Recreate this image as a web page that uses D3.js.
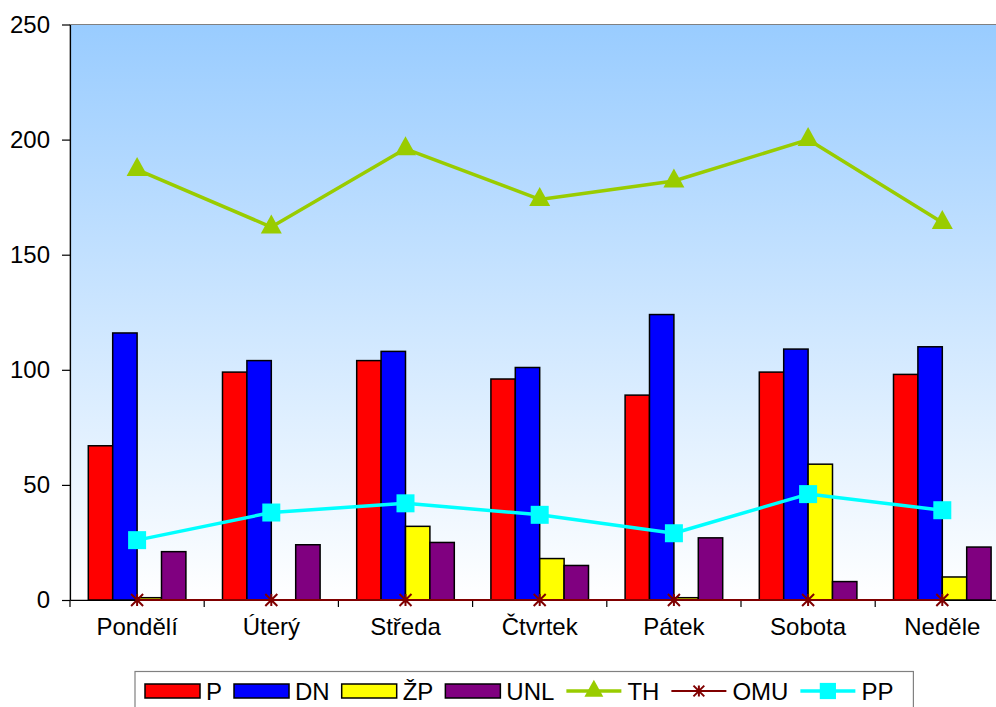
<!DOCTYPE html>
<html>
<head>
<meta charset="utf-8">
<script src="https://cdn.jsdelivr.net/npm/d3@7"></script>
<style>
  html, body { margin: 0; padding: 0; background: #ffffff; }
  svg { display: block; font-family: "Liberation Sans", Arial, sans-serif; }
</style>
</head>
<body>
<svg id="chart" width="996" height="707"></svg>
<script>
// ---- data ----
const categories = ["Pondělí", "Úterý", "Středa", "Čtvrtek", "Pátek", "Sobota", "Neděle"];
const barSeries = ["P", "DN", "ŽP", "UNL"];
const P   = [67, 99, 104, 96, 89, 99, 98];
const DN  = [116, 104, 108, 101, 124, 109, 110];
const ZP  = [1, 0, 32, 18, 1, 59, 10];
const UNL = [21, 24, 25, 15, 27, 8, 23];
const TH  = [187, 162, 196, 174, 182, 200, 164];
const OMU = [0, 0, 0, 0, 0, 0, 0];
const PP  = [26, 38, 42, 37, 29, 46, 39];
const yTicks = [0, 50, 100, 150, 200, 250];

const barData = { "P": P, "DN": DN, "ŽP": ZP, "UNL": UNL };
const barColors = { "P": "#ff0000", "DN": "#0000ff", "ŽP": "#ffff00", "UNL": "#800080" };
const lineSeries = [
  { name: "TH", values: TH, color: "#99cc00", width: 3.5, marker: "triangle" },
  { name: "OMU", values: OMU, color: "#800000", width: 2, marker: "star" },
  { name: "PP", values: PP, color: "#00ffff", width: 3.5, marker: "square" }
];

// ---- layout ----
const svg = d3.select("#chart");
const mLeft = 70, mRight = 1009.4, mTop = 24.5, mBottom = 600;
const FS = 24;

const x = d3.scaleBand().domain(categories).range([mLeft, mRight]).paddingInner(0).paddingOuter(0);
const y = d3.scaleLinear().domain([0, 250]).range([mBottom, mTop]);
const groupW = x.bandwidth() * 4 / 5.5;
const x1 = d3.scaleBand().domain(barSeries).range([-groupW / 2, groupW / 2]);
const cx = c => x(c) + x.bandwidth() / 2;

// background gradient
const defs = svg.append("defs");
const grad = defs.append("linearGradient").attr("id", "bg").attr("x1", 0).attr("y1", 0).attr("x2", 0).attr("y2", 1);
grad.append("stop").attr("offset", "0%").attr("stop-color", "#99ccff");
grad.append("stop").attr("offset", "100%").attr("stop-color", "#ffffff");

svg.append("rect").attr("x", mLeft).attr("y", mTop).attr("width", mRight - mLeft).attr("height", mBottom - mTop)
  .attr("fill", "url(#bg)").attr("stroke", "#808080").attr("stroke-width", 1);

// bars
barSeries.forEach(s => {
  svg.append("g").selectAll("rect").data(categories).join("rect")
    .attr("x", (c) => cx(c) + x1(s))
    .attr("width", x1.bandwidth())
    .attr("y", (c, i) => y(barData[s][i]))
    .attr("height", (c, i) => y(0) - y(barData[s][i]))
    .attr("fill", barColors[s])
    .attr("stroke", "#000")
    .attr("stroke-width", 1.5);
});

// y axis
const yAxis = d3.axisLeft(y).tickValues(yTicks).tickSize(8).tickSizeOuter(0).tickPadding(12);
const gy = svg.append("g").attr("transform", `translate(${mLeft},0)`).call(yAxis);
gy.select(".domain").attr("stroke", "#000").attr("stroke-width", 1.2);
gy.selectAll(".tick line").attr("stroke", "#000").attr("stroke-width", 1.2);
gy.selectAll(".tick text").attr("font-size", FS).attr("font-family", "Liberation Sans, Arial, sans-serif").attr("fill", "#000");

// x axis
const xAxis = d3.axisBottom(x).tickSize(0).tickPadding(18);
const gx = svg.append("g").attr("transform", `translate(0,${mBottom})`).call(xAxis);
gx.select(".domain").attr("stroke", "#000").attr("stroke-width", 1.2);
gx.selectAll(".tick text").attr("font-size", FS).attr("font-family", "Liberation Sans, Arial, sans-serif").attr("fill", "#000");
// category boundary ticks
const bounds = categories.map(c => x(c)).concat([mRight]);
svg.append("g").selectAll("line").data(bounds).join("line")
  .attr("x1", d => d).attr("x2", d => d).attr("y1", mBottom).attr("y2", mBottom + 7)
  .attr("stroke", "#000").attr("stroke-width", 1.2);

// markers
function drawMarker(g, type, color, px, py, scale) {
  const k = scale || 1;
  if (type === "triangle") {
    g.append("path").attr("d", `M${px},${py - 12.5 * k} L${px + 10.5 * k},${py + 6.5 * k} L${px - 10.5 * k},${py + 6.5 * k} Z`).attr("fill", color);
  } else if (type === "square") {
    g.append("rect").attr("x", px - 9 * k).attr("y", py - 9 * k).attr("width", 18 * k).attr("height", 18 * k).attr("fill", color);
  } else if (type === "star") {
    const r = 6 * k;
    g.append("path")
      .attr("d", `M${px - r},${py - r} L${px + r},${py + r} M${px - r},${py + r} L${px + r},${py - r} M${px},${py - r} L${px},${py + r}`)
      .attr("stroke", color).attr("stroke-width", 2).attr("fill", "none");
  }
}

// lines
const lineGen = d3.line().x((d, i) => cx(categories[i])).y(d => y(d));
lineSeries.forEach(s => {
  const g = svg.append("g");
  g.append("path").datum(s.values).attr("d", lineGen)
    .attr("fill", "none").attr("stroke", s.color).attr("stroke-width", s.width).attr("stroke-linejoin", "round");
  s.values.forEach((v, i) => drawMarker(g, s.marker, s.color, cx(categories[i]), y(v), 1));
});

// legend
const legend = svg.append("g");
const legBox = legend.append("rect").attr("x", 135).attr("y", 671.5).attr("height", 50)
  .attr("fill", "#fff").attr("stroke", "#808080").attr("stroke-width", 1.2);
let lx = 145;
const ly = 691;
const items = barSeries.map(s => ({ name: s, type: "bar", color: barColors[s] }))
  .concat(lineSeries.map(s => ({ name: s.name, type: "line", color: s.color, marker: s.marker, width: s.width })));
items.forEach(it => {
  if (it.type === "bar") {
    legend.append("rect").attr("x", lx).attr("y", ly - 7).attr("width", 55).attr("height", 14)
      .attr("fill", it.color).attr("stroke", "#000").attr("stroke-width", 1.5);
  } else {
    legend.append("line").attr("x1", lx).attr("x2", lx + 55).attr("y1", ly).attr("y2", ly)
      .attr("stroke", it.color).attr("stroke-width", it.width);
    drawMarker(legend, it.marker, it.color, lx + 27.5, ly, 0.9);
  }
  const t = legend.append("text").attr("x", lx + 61).attr("y", ly + 8.5).attr("font-size", FS).attr("fill", "#000").text(it.name);
  lx += 61 + t.node().getComputedTextLength() + 12;
});
legBox.attr("width", lx - 135 + 8);
</script>
</body>
</html>
